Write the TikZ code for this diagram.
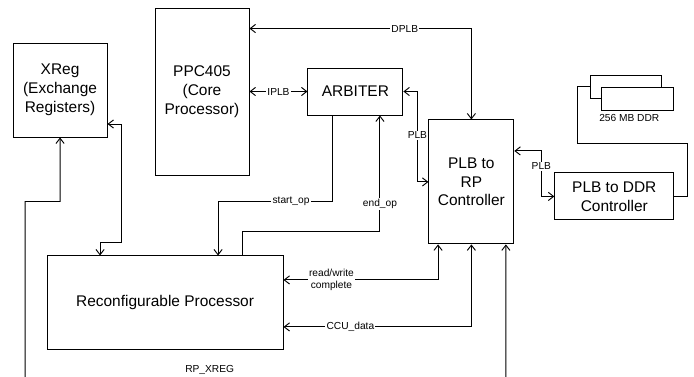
\documentclass[tikz,border=0pt]{standalone}
\usepackage{fontspec}
\setmainfont{Liberation Sans}
\usetikzlibrary{arrows.meta, positioning}

\begin{document}
\begin{tikzpicture}[
    >={Straight Barb[length=4.5pt,width=7pt]},
    font=\fontsize{13.2}{16}\selectfont,
    block/.style={draw, align=center, line width=0.8pt, inner sep=2pt, fill=white},
    membox/.style={block, minimum width=2.13cm, minimum height=0.69cm},
    wire/.style={line width=0.8pt},
    arrow/.style={wire, ->},
    biarrow/.style={wire, <->},
    lbl/.style={fill=white, inner sep=1pt, align=center, font=\fontsize{8.7}{10}\selectfont}
  ]
    \useasboundingbox (-6.06,-8.535) rectangle (14.76,2.745);
    \node[block, minimum width=2.82cm, minimum height=5.01cm] (ppc)
    {PPC405\\(Core\\Processor)};
    \node[block, minimum width=2.85cm, minimum height=1.41cm, right=1.74cm of ppc] (arb)
    {ARBITER};
    \node[block, minimum width=2.55cm, minimum height=3.72cm, below right=0.12cm and 0.75cm of arb] (ctrl)
    {PLB to\\RP\\Controller};
    \node[block, minimum width=3.57cm, minimum height=1.41cm, below right=1.59cm and 1.2cm of ctrl.north east] (ddr)
    {PLB to DDR\\Controller};
    \node[membox, above left=2.22cm and 0.36cm of ddr.north east] (memB) {};
    \node[membox, minimum width=2.16cm, above left=1.86cm and 0cm of ddr.north east] (memA) {};
    \node[lbl, fill=none, below=0.08cm of memA.south, xshift=-0.255cm] (memlbl) {256 MB DDR};
    \node[block, minimum width=2.82cm, minimum height=2.82cm, below left=1.05cm and 1.41cm of ppc.north west] (xreg)
    {XReg\\(Exchange\\Registers)};
    \node[block, minimum width=7.08cm, minimum height=2.82cm, below right=3.54cm and 1.02cm of xreg.south west] (rp)
    {Reconfigurable Processor};
    \coordinate (xbus) at ([shift={(1.035,-4.11)}]ctrl.south);
    % buses between the processor, the arbiter and the controllers
    \draw[biarrow] ([yshift=-0.63cm]ppc.north east) -| node[lbl, pos=0.35] {DPLB} (ctrl.north);
    \draw[biarrow] (ppc) -- node[lbl] {IPLB} (arb);
    \draw[biarrow] (arb.east) -- ++(0.42,0) |- node[lbl, pos=0.243] {PLB} (ctrl.west);
    \draw[biarrow] ([yshift=0.93cm]ctrl.east) -- ++(0.81,0) |- node[lbl, pos=0.17] {PLB} (ddr.west);
    \draw[wire] (ddr.east) -- ++(0.39,0) -- ++(0,1.6) -- ++(-3.3,0) |- (memB.west);
    % control and data lines of the reconfigurable processor
    \draw[arrow] ([xshift=-0.7cm]arb.south) -- ++(0,-2.58)
      -| node[lbl, pos=0.18] {start\_op} ([xshift=1.59cm]rp.north);
    \draw[arrow] ([xshift=2.31cm]rp.north) -- ++(0,0.72)
      -| node[lbl, pos=0.62] {end\_op} ([xshift=0.735cm]arb.south);
    \draw[biarrow] ([xshift=-1cm]ctrl.south)
      |- node[lbl, pos=0.845] {read/write\\complete} ([yshift=0.69cm]rp.east);
    \draw[biarrow] (ctrl.south) |- node[lbl, pos=0.822] {CCU\_data} ([yshift=-0.72cm]rp.east);
    \draw[biarrow] ([yshift=-1.02cm]xreg.east) -- ++(0.42,0) -- ++(0,-3.54)
      -| ([xshift=-1.95cm]rp.north);
    \draw[biarrow] (xreg.south) -- ++(0,-1.92) -- ++(-1.05,0)
      |- node[lbl, fill=none, pos=0.692, above=0.15cm] {RP\_XREG} (xbus)
      -- ([xshift=1.035cm]ctrl.south);
  \end{tikzpicture}
\end{document}
